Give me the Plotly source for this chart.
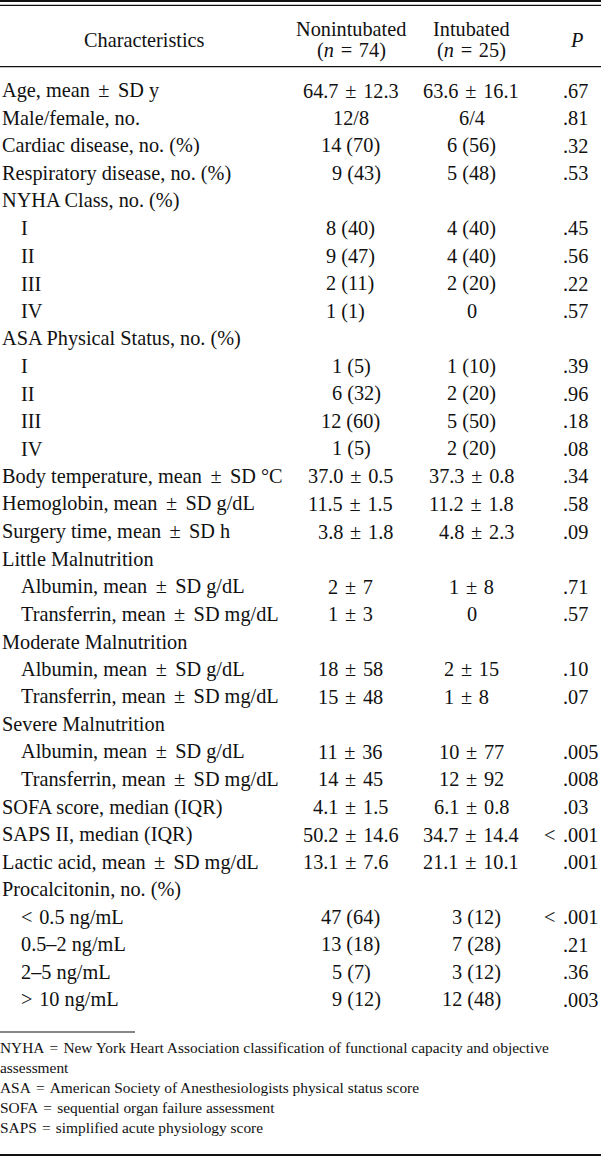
import plotly.graph_objects as go

# ---------------- data ----------------
labels = ["Age, mean ± SD y", "Male/female, no.", "Cardiac disease, no. (%)",
          "Respiratory disease, no. (%)", "NYHA Class, no. (%)", "I", "II", "III", "IV",
          "ASA Physical Status, no. (%)", "I", "II", "III", "IV",
          "Body temperature, mean ± SD °C", "Hemoglobin, mean ± SD g/dL",
          "Surgery time, mean ± SD h", "Little Malnutrition",
          "Albumin, mean ± SD g/dL", "Transferrin, mean ± SD mg/dL",
          "Moderate Malnutrition", "Albumin, mean ± SD g/dL", "Transferrin, mean ± SD mg/dL",
          "Severe Malnutrition", "Albumin, mean ± SD g/dL", "Transferrin, mean ± SD mg/dL",
          "SOFA score, median (IQR)", "SAPS II, median (IQR)", "Lactic acid, mean ± SD mg/dL",
          "Procalcitonin, no. (%)", "< 0.5 ng/mL", "0.5–2 ng/mL", "2–5 ng/mL", "> 10 ng/mL"]
indent = [0, 0, 0, 0, 0, 1, 1, 1, 1, 0, 1, 1, 1, 1, 0, 0, 0, 0, 1, 1, 0, 1, 1, 0, 1, 1,
          0, 0, 0, 0, 1, 1, 1, 1]
nonintubated = ["64.7 ± 12.3", "12/8", "14 (70)", "9 (43)", "", "8 (40)", "9 (47)", "2 (11)",
                "1 (1)", "", "1 (5)", "6 (32)", "12 (60)", "1 (5)", "37.0 ± 0.5", "11.5 ± 1.5",
                "3.8 ± 1.8", "", "2 ± 7", "1 ± 3", "", "18 ± 58", "15 ± 48", "", "11 ± 36",
                "14 ± 45", "4.1 ± 1.5", "50.2 ± 14.6", "13.1 ± 7.6", "", "47 (64)", "13 (18)",
                "5 (7)", "9 (12)"]
intubated = ["63.6 ± 16.1", "6/4", "6 (56)", "5 (48)", "", "4 (40)", "4 (40)", "2 (20)", "0",
             "", "1 (10)", "2 (20)", "5 (50)", "2 (20)", "37.3 ± 0.8", "11.2 ± 1.8",
             "4.8 ± 2.3", "", "1 ± 8", "0", "", "2 ± 15", "1 ± 8", "", "10 ± 77", "12 ± 92",
             "6.1 ± 0.8", "34.7 ± 14.4", "21.1 ± 10.1", "", "3 (12)", "7 (28)", "3 (12)",
             "12 (48)"]
p_values = [".67", ".81", ".32", ".53", "", ".45", ".56", ".22", ".57", "", ".39", ".96",
            ".18", ".08", ".34", ".58", ".09", "", ".71", ".57", "", ".10", ".07", "",
            ".005", ".008", ".03", "< .001", ".001", "", "< .001", ".21", ".36", ".003"]
header_cols = ["Characteristics", "Nonintubated", "Intubated", "P"]
header_n = ["74", "25"]
footnotes = ["NYHA = New York Heart Association classification of functional capacity and objective",
             "assessment",
             "ASA = American Society of Anesthesiologists physical status score",
             "SOFA = sequential organ failure assessment",
             "SAPS = simplified acute physiology score"]

# ---------------- style / layout ----------------
W, H = 601, 1156
FONT = "Liberation Serif, Times New Roman, serif"
FS = 20.3
FN_FS = 15.4
INK = "#111111"
SP = "\u2004"          # math-like spacing around operators in numbers
SPL = "\u2004\u200a"   # slightly wider spacing used in the label column

ROW0, STEP = 90.7, 27.55
X_LABEL, X_INDENT = 1.5, 20.5
C_NON, C_INT, X_P = 351.0, 471.5, 563.0

CW = {"0": .5, "1": .5, "2": .5, "3": .5, "4": .5, "5": .5, "6": .5, "7": .5, "8": .5,
      "9": .5, ".": .25, "(": .333, ")": .333, "/": .278, "±": .564, " ": .25,
      SP: .333}


def width(s, fs=FS):
    return sum(CW.get(ch, .5) for ch in s) * fs


def nice(s):
    return s.replace(" ± ", SPL + "±" + SPL).replace("< ", "<" + SP).replace("> ", ">" + SP)


annotations = []
shapes = []


def txt(x, y, s, anchor="left", size=FS, italic=False):
    annotations.append(dict(x=x, y=y, xref="x", yref="y", text=s, showarrow=False,
                            xanchor=anchor, yanchor="middle", borderpad=0, borderwidth=0,
                            font=dict(family=FONT, size=size, color=INK,
                                      style="italic" if italic else "normal")))


def hline(y, x0, x1, w):
    shapes.append(dict(type="line", xref="x", yref="y", x0=x0, x1=x1, y0=y, y1=y,
                       line=dict(color=INK, width=w)))


def split(v):
    if " ± " in v:
        a, b = v.split(" ± ", 1)
        return "pm", a, SP + "±" + SP + b
    if " (" in v:
        a, b = v.split(" (", 1)
        return "par", a, " (" + b
    return None, v, ""


def draw_column(values, center, ys):
    # consecutive cells with the same separator are aligned on that separator
    i, n = 0, len(values)
    while i < n:
        kind = split(values[i])[0] if values[i] else None
        if kind is None:
            if values[i]:
                txt(center, ys[i], values[i], "center")
            i += 1
            continue
        j = i
        while j < n and values[j] and split(values[j])[0] == kind:
            j += 1
        parts = [split(values[k]) for k in range(i, j)]
        hmax = max(width(p[1]) for p in parts)
        tmax = max(width(p[2]) for p in parts)
        sep_x = center - (hmax + tmax) / 2 + hmax
        for k, p in enumerate(parts):
            txt(sep_x - width(p[1]), ys[i + k], p[1] + p[2], "left")
        i = j


ys = [ROW0 + k * STEP for k in range(len(labels))]

# rules
hline(0.9, 0, W, 2.2)
hline(5.3, 0, W, 1.2)
hline(66.7, 0, W, 1.2)
hline(1032, 0, 135, 1.2)
hline(1155, 0, W, 2.2)

# header
txt(144, 40, header_cols[0], "center")
txt(C_NON, 28.5, header_cols[1], "center")
txt(C_INT, 28.5, header_cols[2], "center")
txt(C_NON, 50, "(<i>n</i>" + SP + "=" + SP + header_n[0] + ")", "center")
txt(C_INT, 50, "(<i>n</i>" + SP + "=" + SP + header_n[1] + ")", "center")
txt(576, 40, header_cols[3], "center", italic=True)

# body
for k, lab in enumerate(labels):
    txt(X_INDENT if indent[k] else X_LABEL, ys[k], nice(lab), "left")

draw_column(nonintubated, C_NON, ys)
draw_column(intubated, C_INT, ys)

for k, p in enumerate(p_values):
    if not p:
        continue
    if p.startswith("<"):
        txt(X_P - 8.5, ys[k], "<", "right")
        txt(X_P, ys[k], p[1:].strip(), "left")
    else:
        txt(X_P, ys[k], p, "left")

# footnotes
for k, f in enumerate(footnotes):
    txt(0, 1047 + k * 20.1, f.replace(" = ", SP + "=" + SP), "left", size=FN_FS)

fig = go.Figure()
fig.update_layout(
    width=W, height=H, margin=dict(l=0, r=0, t=0, b=0),
    paper_bgcolor="white", plot_bgcolor="white", showlegend=False,
    xaxis=dict(range=[0, W], visible=False, fixedrange=True),
    yaxis=dict(range=[H, 0], visible=False, fixedrange=True),
    annotations=annotations, shapes=shapes,
)
fig.write_html("out.html", config={"displayModeBar": False},
               post_script="document.body.style.margin='0';"
                           "document.body.style.overflow='hidden';")
